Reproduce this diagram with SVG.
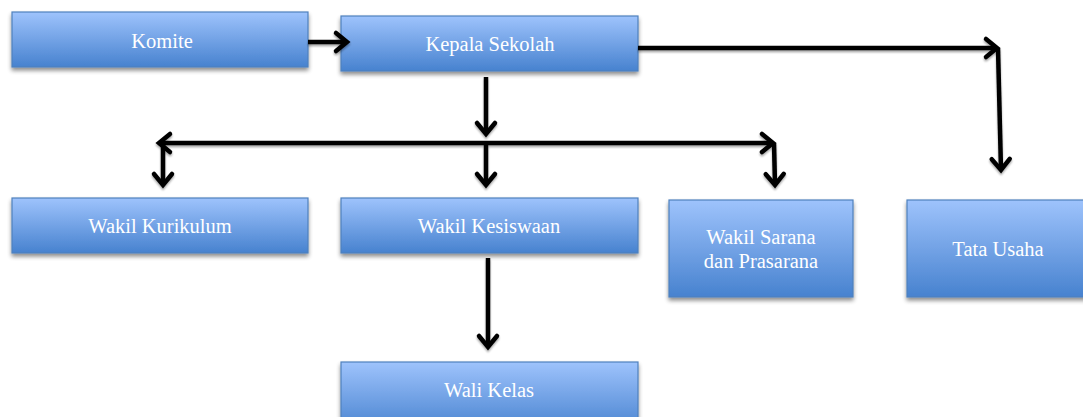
<svg xmlns="http://www.w3.org/2000/svg" width="1083" height="417" viewBox="0 0 1083 417">
<defs>
<linearGradient id="g" x1="0" y1="0" x2="0" y2="1">
<stop offset="0" stop-color="#9ec3fc"/>
<stop offset="1" stop-color="#4782cf"/>
</linearGradient>
<filter id="sh" x="-5%" y="-10%" width="110%" height="130%">
<feGaussianBlur in="SourceAlpha" stdDeviation="2"/>
<feOffset dx="0" dy="3" result="b"/>
<feComponentTransfer><feFuncA type="linear" slope="0.45"/></feComponentTransfer>
<feMerge><feMergeNode/><feMergeNode in="SourceGraphic"/></feMerge>
</filter>
<filter id="lsh" x="-10%" y="-10%" width="120%" height="120%">
<feGaussianBlur in="SourceAlpha" stdDeviation="1.2"/>
<feOffset dx="0" dy="2"/>
<feComponentTransfer><feFuncA type="linear" slope="0.35"/></feComponentTransfer>
<feMerge><feMergeNode/><feMergeNode in="SourceGraphic"/></feMerge>
</filter>
<marker id="ah" markerUnits="userSpaceOnUse" markerWidth="30" markerHeight="30" viewBox="-16 -15 30 30" refX="0" refY="0" orient="auto-start-reverse" overflow="visible">
<path d="M-11,-9 L0,0 L-11,9" fill="none" stroke="#000" stroke-width="4.5" stroke-linecap="round" stroke-linejoin="miter"/>
</marker>
</defs>
<style>
.box{fill:url(#g);stroke:#4f81bd;stroke-width:1.2;filter:url(#sh)}
.t{font-family:"Liberation Serif","DejaVu Serif",serif;font-size:20.5px;fill:#fff;text-anchor:middle}
.c{fill:none;stroke:#000;stroke-width:4.5;stroke-linecap:butt}
</style>
<g id="komite"><rect class="box" x="12" y="12" width="296" height="55"/><text class="t" font-family="Liberation Serif, serif" x="162" y="48">Komite</text></g>
<g id="kepala"><rect class="box" x="341" y="16" width="297" height="55"/><text class="t" font-family="Liberation Serif, serif" x="490" y="51">Kepala Sekolah</text></g>
<g id="kurikulum"><rect class="box" x="12" y="198" width="296" height="55"/><text class="t" font-family="Liberation Serif, serif" x="160" y="233">Wakil Kurikulum</text></g>
<g id="kesiswaan"><rect class="box" x="341" y="198" width="297" height="55"/><text class="t" font-family="Liberation Serif, serif" x="489" y="233">Wakil Kesiswaan</text></g>
<g id="sarana"><rect class="box" x="669" y="200" width="184" height="97"/><text class="t" font-family="Liberation Serif, serif" x="761" y="244">Wakil Sarana</text><text class="t" font-family="Liberation Serif, serif" x="761" y="268">dan Prasarana</text></g>
<g id="tatausaha"><rect class="box" x="907" y="200" width="185" height="97"/><text class="t" font-family="Liberation Serif, serif" x="998" y="256">Tata Usaha</text></g>
<g id="walikelas"><rect class="box" x="341" y="362" width="297" height="70"/><text class="t" font-family="Liberation Serif, serif" x="489" y="397">Wali Kelas</text></g>
<g id="connectors" filter="url(#lsh)">
<path class="c" d="M308,42 L347,42" marker-end="url(#ah)"/>
<path class="c" d="M638,48 L997,48" marker-end="url(#ah)"/>
<path class="c" d="M998,48 L1001,170" marker-end="url(#ah)"/>
<path class="c" d="M486,77 L486,134" marker-end="url(#ah)"/>
<path class="c" d="M159,143 L773,143" marker-start="url(#ah)" marker-end="url(#ah)"/>
<path class="c" d="M163,143 L163,185" marker-end="url(#ah)"/>
<path class="c" d="M486,143 L486,185" marker-end="url(#ah)"/>
<path class="c" d="M774,143 L775,185" marker-end="url(#ah)"/>
<path class="c" d="M488,258 L488,347" marker-end="url(#ah)"/>
</g>
</svg>
